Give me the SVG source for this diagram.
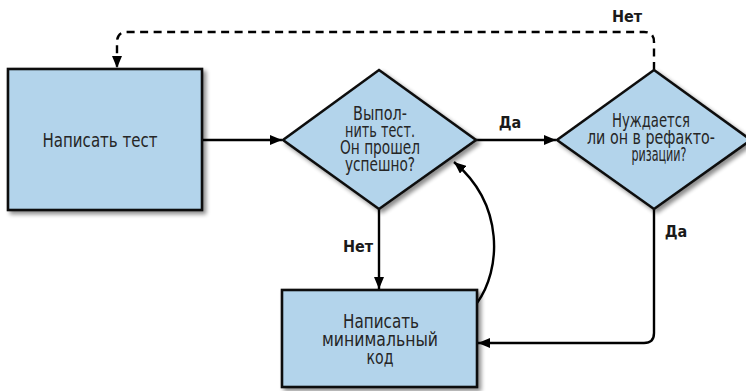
<svg xmlns="http://www.w3.org/2000/svg" width="746" height="391" viewBox="0 0 746 391">
<style>
.node{fill:#b3d4eb;stroke:#111;stroke-width:2.6;stroke-linejoin:miter}
.t{font-family:"DejaVu Sans Condensed","DejaVu Sans",sans-serif;font-size:20px;fill:#262626;text-anchor:middle}
.lbl{font-family:"DejaVu Sans Condensed","DejaVu Sans",sans-serif;font-weight:bold;font-size:16px;fill:#1a1a1a;text-anchor:middle}
.c{fill:none;stroke:#000;stroke-width:2.4}
.d{stroke-dasharray:8 5.5}
</style>
<defs>
<filter id="sh" x="-10%" y="-10%" width="130%" height="130%">
<feGaussianBlur in="SourceAlpha" stdDeviation="2.2"/>
<feOffset dx="3" dy="3" result="b"/>
<feComponentTransfer><feFuncA type="linear" slope="0.45"/></feComponentTransfer>
<feMerge><feMergeNode/><feMergeNode in="SourceGraphic"/></feMerge>
</filter>
<marker id="ah" markerWidth="12" markerHeight="10" refX="12" refY="5" orient="auto" markerUnits="userSpaceOnUse">
<path d="M0,0 L12,5 L0,10 Z" fill="#000"/>
</marker>
</defs>
<g id="connectors">
<path class="c" d="M202,140 L282,140" marker-end="url(#ah)"/>
<path class="c" d="M476,140 L556,140" marker-end="url(#ah)"/>
<path class="c" d="M379,209 L379,289" marker-end="url(#ah)"/>
<path class="c" d="M654,209 L654,333 Q654,343 644,343 L478,343" marker-end="url(#ah)"/>
<path class="c d" d="M654,70 L654,42 Q654,32 644,32 L127,32 Q117,32 117,42 L117,68" marker-end="url(#ah)"/>
<path class="c" d="M477,303 C501,270 505,205 454,162" marker-end="url(#ah)"/>
</g>
<g id="n1">
<rect class="node" x="8" y="69" width="194" height="141" filter="url(#sh)"/>
<text class="t" x="100" y="147" textLength="115" lengthAdjust="spacingAndGlyphs">Написать тест</text>
</g>
<g id="n2">
<polygon class="node" points="379,70 476,140 379,209 283,140" filter="url(#sh)"/>
<text class="t" x="380" y="120" textLength="54" lengthAdjust="spacingAndGlyphs">Выпол-</text>
<text class="t" x="380" y="137" textLength="70" lengthAdjust="spacingAndGlyphs">нить тест.</text>
<text class="t" x="380" y="154" textLength="80" lengthAdjust="spacingAndGlyphs">Он прошел</text>
<text class="t" x="380" y="171" textLength="70" lengthAdjust="spacingAndGlyphs">успешно?</text>
</g>
<g id="n3">
<polygon class="node" points="654,70 751,140 654,209 557,140" filter="url(#sh)"/>
<text class="t" x="651" y="127" textLength="78" lengthAdjust="spacingAndGlyphs">Нуждается</text>
<text class="t" x="651" y="144" textLength="128" lengthAdjust="spacingAndGlyphs">ли он в рефакто-</text>
<text class="t" x="659" y="161" textLength="55" lengthAdjust="spacingAndGlyphs">ризации?</text>
</g>
<g id="n4">
<rect class="node" x="282" y="290" width="195" height="97" filter="url(#sh)"/>
<text class="t" x="381" y="328" textLength="76" lengthAdjust="spacingAndGlyphs">Написать</text>
<text class="t" x="380" y="346" textLength="116" lengthAdjust="spacingAndGlyphs">минимальный</text>
<text class="t" x="380" y="364" textLength="27" lengthAdjust="spacingAndGlyphs">код</text>
</g>
<g id="labels">
<text class="lbl" x="627" y="22">Нет</text>
<text class="lbl" x="510" y="128">Да</text>
<text class="lbl" x="358" y="252">Нет</text>
<text class="lbl" x="676" y="237">Да</text>
</g>
</svg>
